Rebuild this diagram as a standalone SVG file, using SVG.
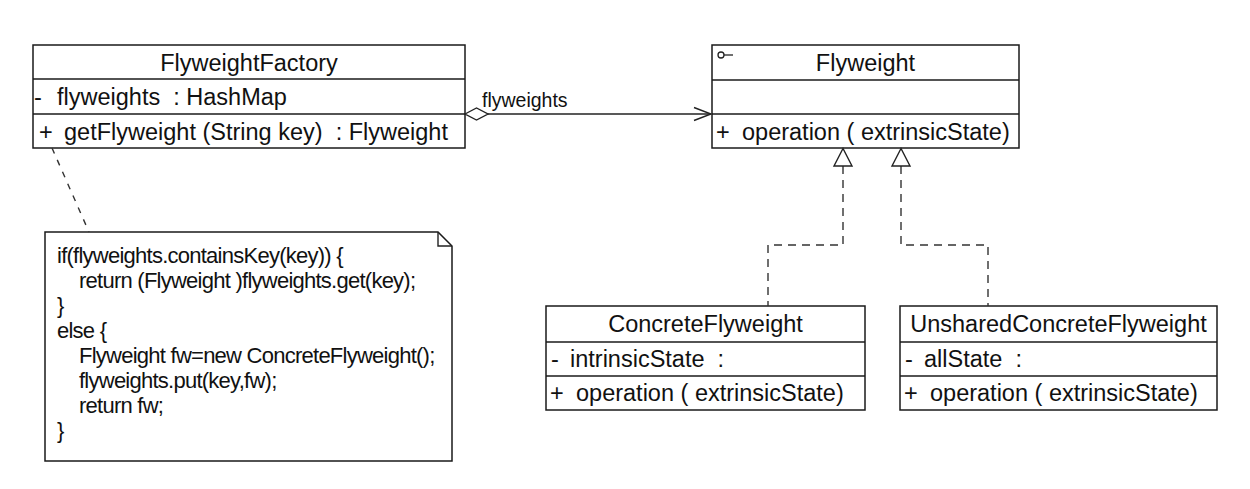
<svg xmlns="http://www.w3.org/2000/svg" width="1250" height="489" viewBox="0 0 1250 489">
<style>
.box{fill:#fff;stroke:#1a1a1a;stroke-width:1.5}
.div{stroke:#1a1a1a;stroke-width:1.5}
.t{font-family:"Liberation Sans",Arial,sans-serif;font-size:23.5px;fill:#111;white-space:pre}
.c{text-anchor:middle}
.lbl{font-family:"Liberation Sans",Arial,sans-serif;font-size:19.5px;fill:#111}
.note{font-family:"Liberation Sans",Arial,sans-serif;font-size:22px;letter-spacing:-0.75px;fill:#111}
.ln{fill:none;stroke:#222;stroke-width:1.4}
.dash{fill:none;stroke:#333;stroke-width:1.4;stroke-dasharray:8,6}
</style>
<rect width="1250" height="489" fill="#fff"/>
<g id="FlyweightFactory">
<rect class="box" x="33" y="45" width="432" height="103"/>
<line class="div" x1="33" y1="79" x2="465" y2="79"/>
<line class="div" x1="33" y1="114" x2="465" y2="114"/>
<text class="t c" x="249" y="70.5">FlyweightFactory</text>
<text class="t" y="105" xml:space="preserve"><tspan x="34">-</tspan><tspan x="57">flyweights  : HashMap</tspan></text>
<text class="t" y="139.5" xml:space="preserve"><tspan x="39">+</tspan><tspan x="64">getFlyweight (String key)  : Flyweight</tspan></text>
</g>
<g id="Flyweight">
<rect class="box" x="712" y="45" width="307" height="103"/>
<line class="div" x1="712" y1="80" x2="1019" y2="80"/>
<line class="div" x1="712" y1="114" x2="1019" y2="114"/>
<circle cx="721" cy="55" r="3" fill="none" stroke="#222" stroke-width="1.3"/>
<line x1="724" y1="55" x2="733" y2="55" stroke="#222" stroke-width="1.3"/>
<text class="t c" x="865.5" y="71">Flyweight</text>
<text class="t" y="139.5" xml:space="preserve"><tspan x="716">+</tspan><tspan x="742">operation ( extrinsicState)</tspan></text>
</g>
<g id="ConcreteFlyweight">
<rect class="box" x="546" y="306" width="319" height="104"/>
<line class="div" x1="546" y1="342" x2="865" y2="342"/>
<line class="div" x1="546" y1="376" x2="865" y2="376"/>
<text class="t c" x="705.5" y="332">ConcreteFlyweight</text>
<text class="t" y="367" xml:space="preserve"><tspan x="551">-</tspan><tspan x="570">intrinsicState  :</tspan></text>
<text class="t" y="401" xml:space="preserve"><tspan x="550">+</tspan><tspan x="576">operation ( extrinsicState)</tspan></text>
</g>
<g id="UnsharedConcreteFlyweight">
<rect class="box" x="900" y="306" width="317" height="104"/>
<line class="div" x1="900" y1="342" x2="1217" y2="342"/>
<line class="div" x1="900" y1="376" x2="1217" y2="376"/>
<text class="t c" x="1058.5" y="332">UnsharedConcreteFlyweight</text>
<text class="t" y="367" xml:space="preserve"><tspan x="905">-</tspan><tspan x="924">allState  :</tspan></text>
<text class="t" y="401" xml:space="preserve"><tspan x="904">+</tspan><tspan x="930">operation ( extrinsicState)</tspan></text>
</g>
<g id="Note">
<path class="box" d="M45,232 H438 L452,246 V461 H45 Z"/>
<path class="ln" d="M438,232 V246 H452"/>
<text class="note" x="57" y="263">if(flyweights.containsKey(key)) {</text>
<text class="note" x="79" y="288">return (Flyweight )flyweights.get(key);</text>
<text class="note" x="57" y="313">}</text>
<text class="note" x="57" y="338">else {</text>
<text class="note" x="79" y="363">Flyweight fw=new ConcreteFlyweight();</text>
<text class="note" x="79" y="388">flyweights.put(key,fw);</text>
<text class="note" x="79" y="413">return fw;</text>
<text class="note" x="57" y="438">}</text>
</g>
<g id="connectors">
<line class="ln" x1="488" y1="114" x2="711" y2="114"/>
<polygon points="465,114 476.5,108 488,114 476.5,120" fill="#fff" stroke="#222" stroke-width="1.4"/>
<polyline class="ln" points="694,107.5 711,114 694,120.5"/>
<text class="lbl" x="482" y="107">flyweights</text>
<path class="dash" d="M843,166 V245 H768 V306"/>
<path class="dash" d="M901,166 V245 H988 V306"/>
<polygon points="843,148.5 834,166 852,166" fill="#fff" stroke="#222" stroke-width="1.4"/>
<polygon points="901,148.5 892,166 910,166" fill="#fff" stroke="#222" stroke-width="1.4"/>
<line class="dash" x1="52" y1="148" x2="89" y2="232" style="stroke-dasharray:6,7"/>
</g>
</svg>
